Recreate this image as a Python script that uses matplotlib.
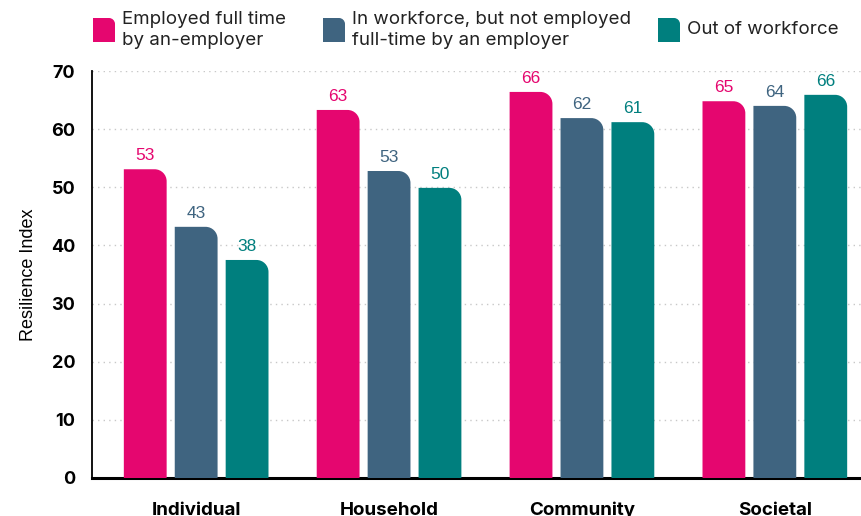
import numpy as np
import matplotlib
matplotlib.use("Agg")
import matplotlib.pyplot as plt
from matplotlib.path import Path
from matplotlib.patches import PathPatch

plt.rcParams['font.family'] = ['Inter', 'DejaVu Sans']

categories = ['Individual', 'Household', 'Community', 'Societal']
series_names = ['Employed full time\nby an-employer',
                'In workforce, but not employed\nfull-time by an employer',
                'Out of workforce']
employed = [53.1, 63.3, 66.4, 64.8]
in_workforce = [43.2, 52.8, 61.9, 64.0]
out_workforce = [37.5, 49.9, 61.2, 65.9]
employed_labels = [53, 63, 66, 65]
in_workforce_labels = [43, 53, 62, 64]
out_workforce_labels = [38, 50, 61, 66]

colors = ['#E5066F', '#3F6480', '#007F7E']


def rounded_top_right(x0, y0, w, h, rx, ry):
    # rectangle path with only the top-right corner rounded
    k = 0.5523
    verts = [(x0, y0), (x0 + w, y0), (x0 + w, y0 + h - ry),
             (x0 + w, y0 + h - ry + k * ry), (x0 + w - rx + k * rx, y0 + h), (x0 + w - rx, y0 + h),
             (x0, y0 + h), (x0, y0)]
    codes = [Path.MOVETO, Path.LINETO, Path.LINETO,
             Path.CURVE4, Path.CURVE4, Path.CURVE4,
             Path.LINETO, Path.CLOSEPOLY]
    return Path(verts, codes)


fig = plt.figure(figsize=(8.61, 5.16), dpi=100)
ax = fig.add_axes([92 / 861, 38 / 516, 787 / 861, 407 / 516])

x = np.arange(len(categories))
width = 0.222
step = 0.264
all_vals = [employed, in_workforce, out_workforce]
all_labels = [employed_labels, in_workforce_labels, out_workforce_labels]

ax.set_xlim(-0.54, 3.54)
ax.set_ylim(0, 70)

px_x = 787 / 4.08
px_y = 407 / 70
rx = 12 / px_x
ry = 12 / px_y

for i, (vals, labs) in enumerate(zip(all_vals, all_labels)):
    bars = ax.bar(x + (i - 1) * step, vals, width, color=colors[i], zorder=3)
    for b, lab in zip(bars, labs):
        b.set_visible(False)
        p = rounded_top_right(b.get_x(), 0, b.get_width(), b.get_height(), rx, ry)
        ax.add_patch(PathPatch(p, facecolor=colors[i], edgecolor='none', zorder=3))
        ax.text(b.get_x() + b.get_width() / 2, b.get_height() + 1.0, str(lab),
                ha='center', va='bottom', color=colors[i], fontsize=12.5,
                family=['Liberation Sans', 'DejaVu Sans'])

ax.set_yticks(range(0, 71, 10))
ax.yaxis.grid(True, linestyle=(0, (1, 3)), color='#c8c8c8', linewidth=1, zorder=0)
ax.set_axisbelow(True)
ax.tick_params(axis='both', length=0)
ax.tick_params(axis='y', labelsize=13, pad=12)
for t in ax.get_yticklabels():
    t.set_fontweight('bold')
ax.set_xticks(x)
ax.set_xticklabels(categories, fontsize=13.5, fontweight='bold')
ax.tick_params(axis='x', pad=17)
ax.set_ylabel('Resilience Index', fontsize=13, labelpad=10,
              family=['Liberation Sans', 'DejaVu Sans'])

for s in ['top', 'right']:
    ax.spines[s].set_visible(False)
ax.spines['left'].set_linewidth(1.3)
ax.spines['bottom'].set_linewidth(2.2)
ax.spines['left'].set_color('black')
ax.spines['bottom'].set_color('black')

# legend drawn by hand at top
leg_x = [93, 323, 658]
for i, name in enumerate(series_names):
    x0 = leg_x[i] / 861
    y0 = (516 - 42) / 516
    w = 22 / 861
    h = 24 / 516
    p = rounded_top_right(x0, y0, w, h, 6 / 861, 6 / 516)
    fig.add_artist(PathPatch(p, facecolor=colors[i], edgecolor='none', transform=fig.transFigure))
    fig.text((leg_x[i] + 29) / 861, (516 - 30) / 516, name, ha='left', va='center',
             fontsize=13.5, linespacing=1.3, color='#222222')

fig.savefig('out.png', dpi=100)
